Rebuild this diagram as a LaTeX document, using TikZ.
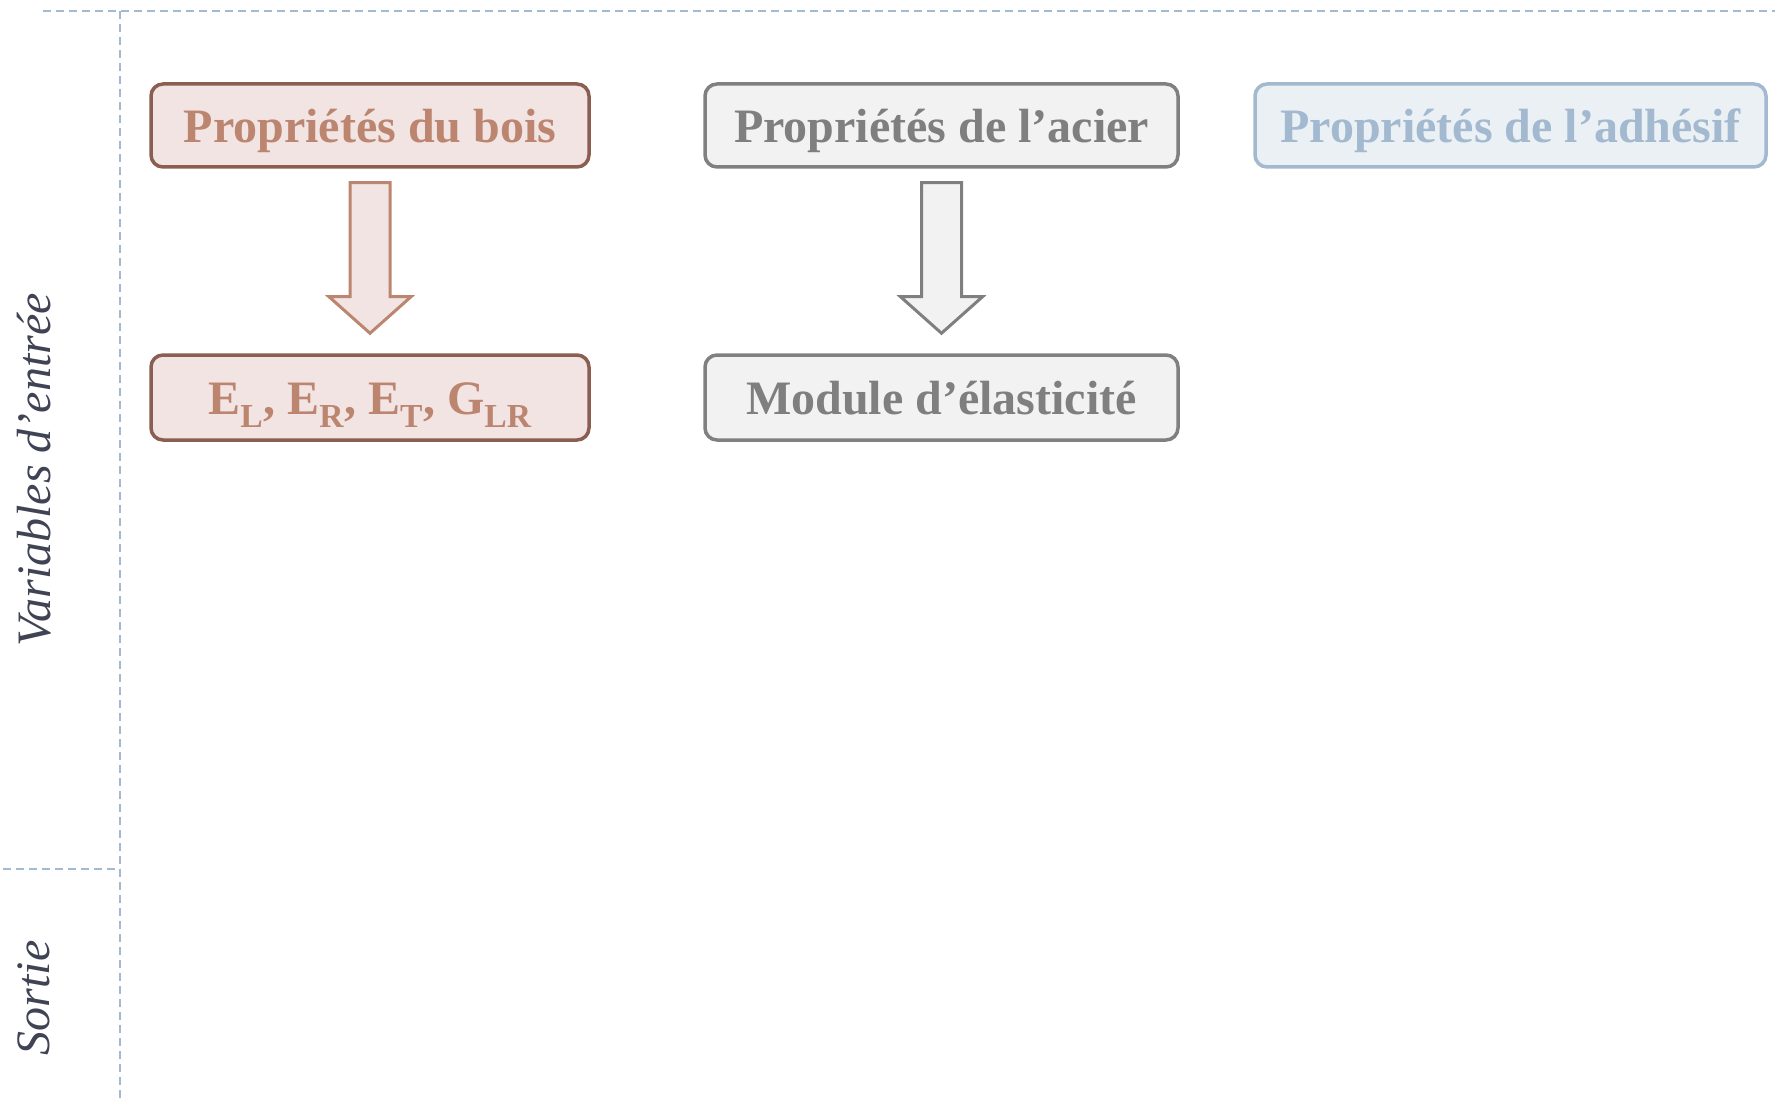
\documentclass[tikz,border=0pt]{standalone}
\usepackage{fontspec}
\setmainfont{Liberation Serif}
\usetikzlibrary{calc}
\definecolor{boisB}{HTML}{8B5E52}
\definecolor{boisF}{HTML}{F2E4E2}
\definecolor{boisT}{HTML}{BC8570}
\definecolor{acierB}{HTML}{808080}
\definecolor{acierF}{HTML}{F2F2F2}
\definecolor{acierT}{HTML}{7F7F7F}
\definecolor{adhB}{HTML}{A2B9CF}
\definecolor{adhF}{HTML}{EBF0F5}
\definecolor{adhT}{HTML}{A2B9CF}
\definecolor{sepC}{HTML}{A2B9CF}
\definecolor{lblC}{HTML}{404354}
\tikzset{
  box/.style={rounded corners=12pt, line width=3.5pt, inner sep=0pt,
    minimum height=83pt, text height=34pt, text depth=0pt,
    font=\fontsize{48}{52}\selectfont\bfseries},
  boisbox/.style={box, draw=boisB, fill=boisF, text=boisT},
  acierbox/.style={box, draw=acierB, fill=acierF, text=acierT},
  adhbox/.style={box, draw=adhB, fill=adhF, text=adhT},
  sepline/.style={draw=sepC, line width=1.8pt, dash pattern=on 8pt off 5pt},
  sidelabel/.style={rotate=90, text=lblC, font=\fontsize{48}{52}\selectfont\itshape},
  blockarrow/.style={line width=3pt, line join=miter},
}
\begin{document}
\begin{tikzpicture}[x=1pt,y=-1pt]
\useasboundingbox (0,0) rectangle (1775,1099);
% separators
\coordinate (tl) at (43,11);
\coordinate (tr) at (1775,11);
\coordinate (vt) at (120,11);
\coordinate (vb) at (120,1099);
\coordinate (hl) at (3,869);
\coordinate (hr) at (120,869);
\draw[sepline] (tl) -- (tr);
\draw[sepline] (vt) -- (vb);
\draw[sepline] (hl) -- (hr);
% side labels
\node[sidelabel] (lin) at (34,470) {Variables d’entrée};
\node[sidelabel] (lout) at (34,998) {Sortie};
% boxes
\node[boisbox, minimum width=438pt] (b1) at (370,125.5) {Propriétés du bois};
\node[acierbox, minimum width=473pt] (b2) at (941.5,125.5) {Propriétés de l’acier};
\node[adhbox, minimum width=511pt] (b3) at (1510.5,125.5) {Propriétés de l’adhésif};
\node[boisbox, minimum width=438pt, minimum height=85pt] (b4) at (370,397.5)
  {E\textsubscript{L}, E\textsubscript{R}, E\textsubscript{T}, G\textsubscript{LR}};
\node[acierbox, minimum width=473pt, minimum height=85pt] (b5) at (941.5,397.5) {Module d’élasticité};
% block arrows
\draw[blockarrow, draw=boisT, fill=boisF]
  ($(b1.south)+(-20,14)$) -- ($(b1.south)+(20,14)$) -- ($(b1.south)+(20,128)$)
  -- ($(b1.south)+(41,128)$) -- ($(b4.north)+(0,-20)$) -- ($(b1.south)+(-41,128)$)
  -- ($(b1.south)+(-20,128)$) -- cycle;
\draw[blockarrow, draw=acierT, fill=acierF]
  ($(b2.south)+(-20,14)$) -- ($(b2.south)+(20,14)$) -- ($(b2.south)+(20,128)$)
  -- ($(b2.south)+(41,128)$) -- ($(b5.north)+(0,-20)$) -- ($(b2.south)+(-41,128)$)
  -- ($(b2.south)+(-20,128)$) -- cycle;
\end{tikzpicture}
\end{document}
